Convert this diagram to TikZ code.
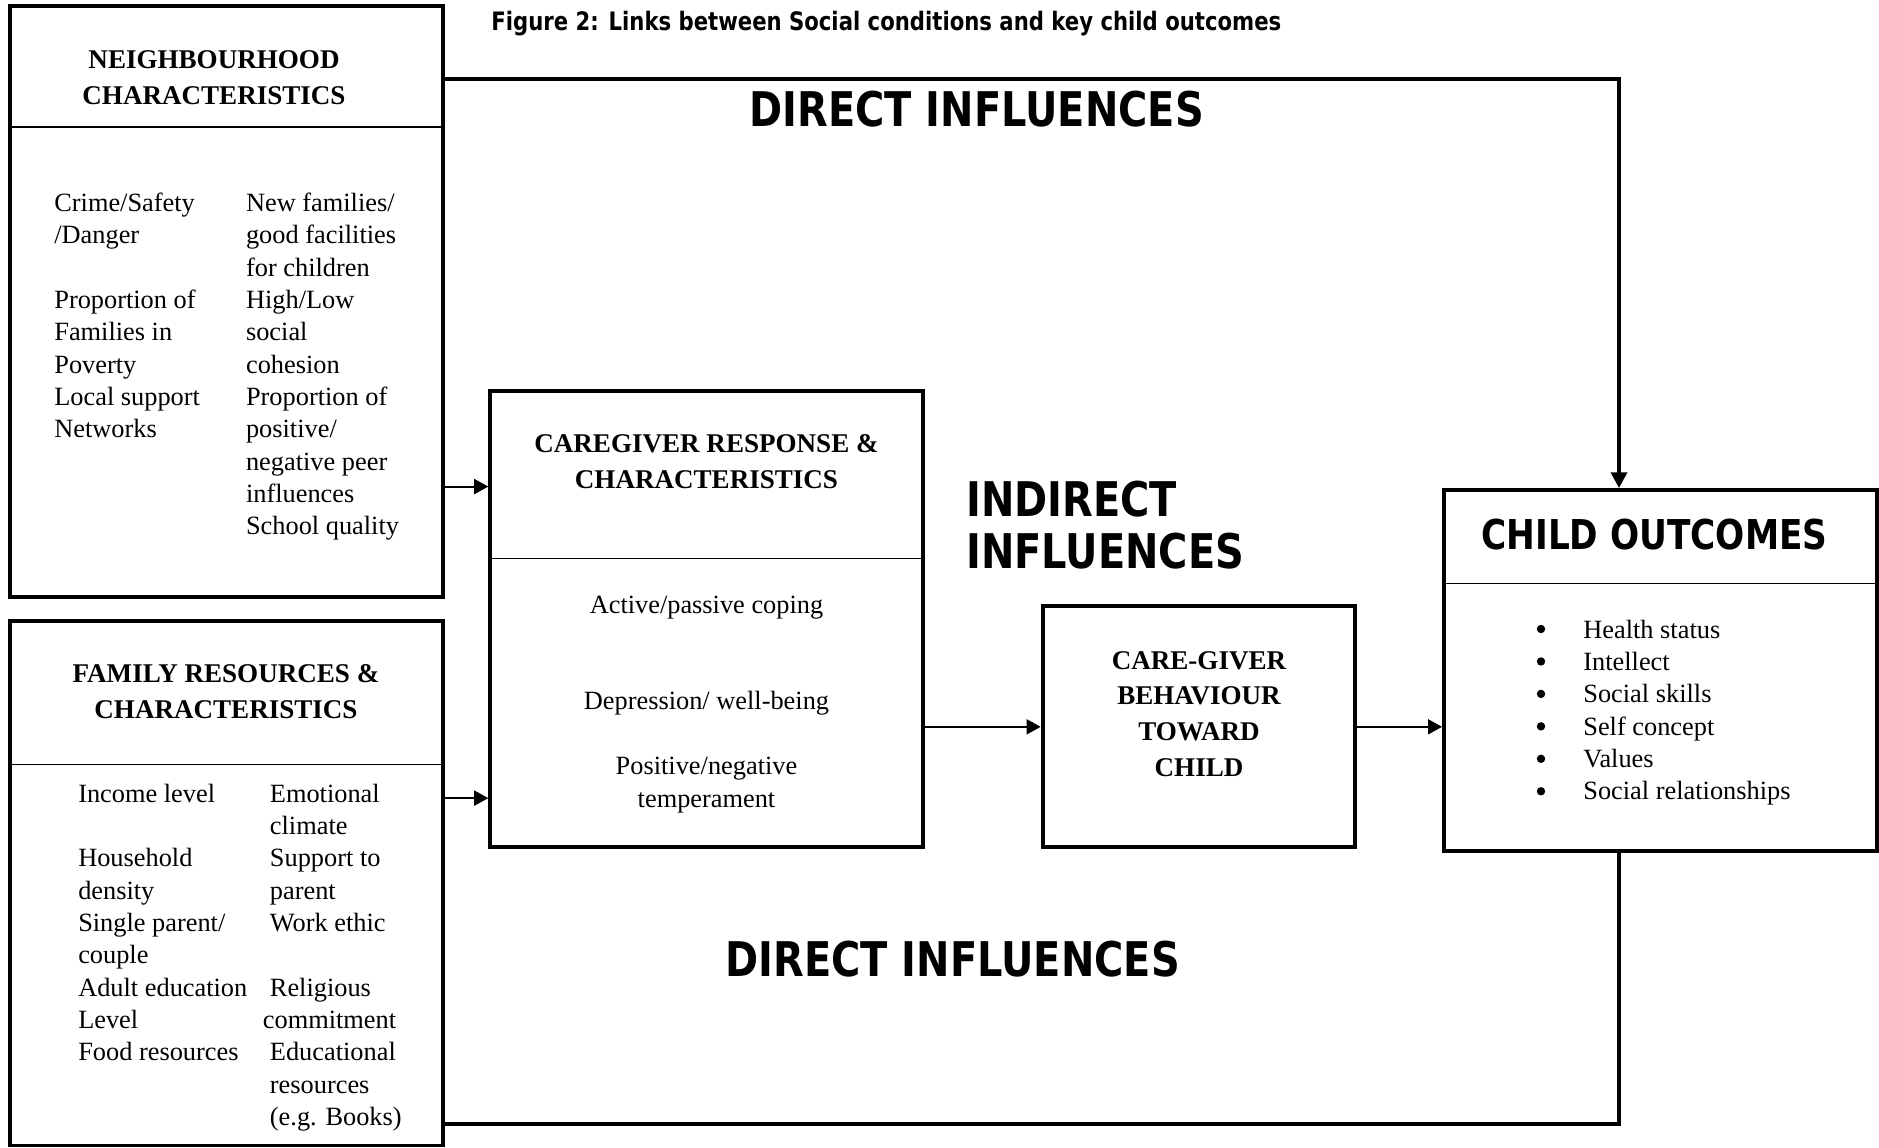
\documentclass[tikz,border=0pt]{standalone}
\usepackage{fontspec}
\setmainfont{Liberation Serif}
\newfontfamily\headfont[FakeStretch=0.835]{DejaVu Sans}
\usetikzlibrary{fit,positioning,arrows.meta}
\newcommand{\bodysize}{\fontsize{15}{18.4}\selectfont}
\newcommand{\boxhead}{\fontsize{15.4}{20.4}\selectfont\bfseries}

\begin{document}
\begin{tikzpicture}[x=0.02cm,y=-0.02cm,
    box/.style={draw, line width=2.2pt, inner sep=0pt},
    sep/.style={line width=1pt},
    link/.style={line width=2.2pt},
    conn/.style={line width=1.2pt, -{Triangle[length=8pt,width=8.5pt]}},
    head/.style={font=\boxhead, align=center},
    col/.style={font=\bodysize, align=left, anchor=north west, inner sep=0pt},
    mid/.style={font=\bodysize, align=center},
    big/.style={font=\headfont\bfseries\fontsize{27.2}{29.9}\selectfont, align=left, inner sep=0pt}]
    \useasboundingbox (0,0) rectangle (1879,1148);
    \node[anchor=west, inner sep=0pt, font=\headfont\bfseries\fontsize{14.45}{17}\selectfont] (title) at (491,24) {Figure 2: Links between Social conditions and key child outcomes};

    \node[box, fit={(9.6,6) (443.4,596.8)}] (nbh) {};
    \draw[sep] (nbh.west |- 0,127) -- (nbh.east |- 0,127);
    \node[head] (nbhhead) at (214,78) {NEIGHBOURHOOD\\CHARACTERISTICS};
    \node[col] (nbhleft) at (54,192.5) {Crime/Safety\\/Danger\\[18.4pt]Proportion of\\Families in\\Poverty\\Local support\\Networks};
    \node[col] (nbhright) at (245.7,192.5) {New families/\\good facilities\\for children\\High/Low\\social\\cohesion\\Proportion of\\positive/\\negative peer\\influences\\School quality};

    \node[box, fit={(9.6,620.8) (443.4,1145.5)}] (fam) {};
    \draw[sep] (fam.west |- 0,764.6) -- (fam.east |- 0,764.6);
    \node[head] (famhead) at (226,692) {FAMILY RESOURCES \&\\CHARACTERISTICS};
    \node[col] (famleft) at (77.9,783.5) {Income level\\[18.4pt]Household\\density\\Single parent/\\couple\\Adult education\\Level\\Food resources};
    \node[col] (famright) at (269.6,783.5) {Emotional\\climate\\Support to\\parent\\Work ethic\\[18.4pt]Religious\\\hspace*{-4pt}commitment\\Educational\\resources\\(e.g. Books)};

    \node[box, fit={(490.2,390.7) (922.8,847.3)}] (resp) {};
    \draw[sep] (resp.west |- 0,558.5) -- (resp.east |- 0,558.5);
    \node[head] (resphead) at (706.5,462) {CAREGIVER RESPONSE \&\\CHARACTERISTICS};
    \node[mid] (coping) at (706.5,607.5) {Active/passive coping};
    \node[mid] (depress) at (706.5,703.5) {Depression/ well-being};
    \node[mid] (temper) at (706.5,785) {Positive/negative\\temperament};

    \node[box, fit={(1042.6,606.4) (1355.4,847.3)}] (behav) {};
    \node[head] (behavhead) at (1199,714) {CARE-GIVER\\BEHAVIOUR\\TOWARD\\CHILD};

    \node[box, fit={(1444,490.1) (1876.7,850.9)}] (outc) {};
    \draw[sep] (outc.west |- 0,583.6) -- (outc.east |- 0,583.6);
    \node[inner sep=0pt, font=\headfont\bfseries\fontsize{23.4}{28}\selectfont] (outchead) at (1654.4,534.5) {CHILD OUTCOMES};
    \node[col] (outclist) at (1583,619.5) {Health status\\Intellect\\Social skills\\Self concept\\Values\\Social relationships};
    \foreach \i in {0,...,5}
        \fill (1541,629+32.45*\i) circle (4.2);

    \coordinate (dirtop) at (1619,79.1);
    \coordinate (dirbot) at (1619,1124);
    \draw[link, -{Triangle[length=9pt,width=9pt]}] (nbh.east |- dirtop) -| (outc.north -| dirtop);
    \draw[link] (fam.east |- dirbot) -| (outc.south -| dirbot);
    \draw[conn] (nbh.east |- 0,486.6) -- (resp.west |- 0,486.6);
    \draw[conn] (fam.east |- 0,798.1) -- (resp.west |- 0,798.1);
    \draw[conn] (resp.east |- behav.west) -- (behav.west);
    \draw[conn] (behav.east) -- (outc.west |- behav.east);

    \node[big] (dirtoplab) at (976.7,109) {DIRECT INFLUENCES};
    \node[big] (dirbotlab) at (952.7,958.7) {DIRECT INFLUENCES};
    \node[big, anchor=west] (indirect) at (965.9,524.9) {INDIRECT\\INFLUENCES};
\end{tikzpicture}
\end{document}
